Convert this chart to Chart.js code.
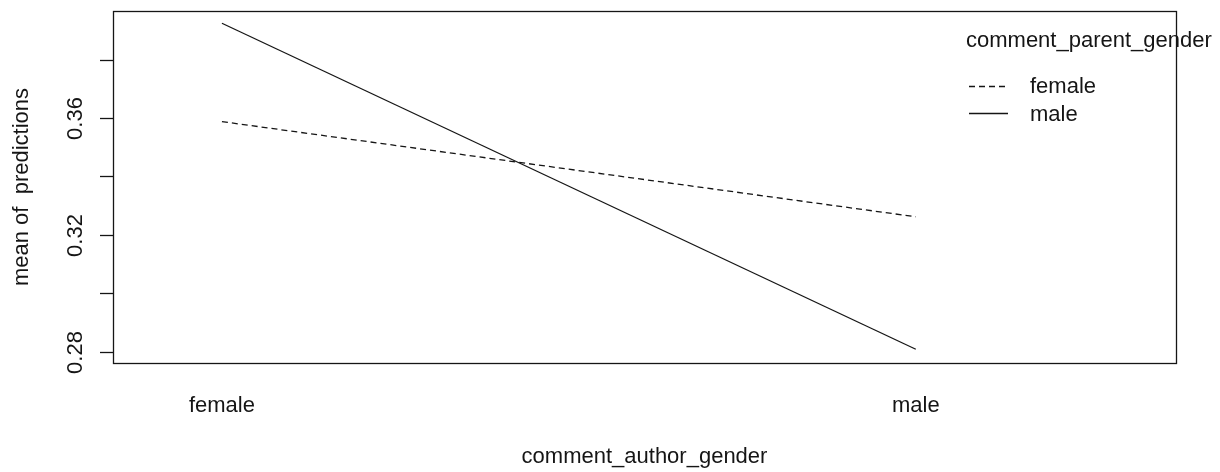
<!DOCTYPE html>
<html>
<head>
<meta charset="utf-8">
<script src="https://cdn.jsdelivr.net/npm/chart.js@4.4.1/dist/chart.umd.min.js"></script>
<style>
  html, body { margin: 0; padding: 0; background: #ffffff; }
  #wrap { width: 1220px; height: 472px; }
</style>
</head>
<body>
<div id="wrap"><canvas id="c" width="1220" height="472"></canvas></div>
<script>
// Levels of the trace factor (x axis) and the grouping factor (lines)
const authorLevels = ['female', 'male'];
const parentLevels = ['female', 'male'];

// Mean of predictions for each author level, one array per parent level
const parentFemale = [0.3588, 0.3262];
const parentMale   = [0.3925, 0.2808];

// Y axis ticks and the labels that are printed
const yTicks      = [0.28, 0.30, 0.32, 0.34, 0.36, 0.38];
const yTickLabels = ['0.28', '', '0.32', '', '0.36', ''];

const xTitle = 'comment_author_gender';
const yTitle = 'mean of  predictions';
const legendTitle = 'comment_parent_gender';

const FONT = '"Liberation Sans", Arial, sans-serif';
const INK = '#151515';
const DASH = [6, 4];

function pts(vals) {
  return vals.map((v, i) => ({ x: i + 1, y: v }));
}

const decor = {
  id: 'decor',
  afterDraw(chart) {
    const ctx = chart.ctx;
    const a = chart.chartArea;
    const xs = chart.scales.x, ys = chart.scales.y;
    ctx.save();
    ctx.strokeStyle = INK;
    ctx.fillStyle = INK;
    ctx.lineWidth = 1.3;

    // plot frame
    ctx.strokeRect(Math.round(a.left) + 0.5, Math.round(a.top) + 0.5,
                   Math.round(a.right - a.left), Math.round(a.bottom - a.top));

    // y ticks and rotated labels
    ctx.font = '22px ' + FONT;
    yTicks.forEach((t, i) => {
      const y = Math.round(ys.getPixelForValue(t)) + 0.5;
      ctx.beginPath();
      ctx.moveTo(a.left - 13, y);
      ctx.lineTo(a.left, y);
      ctx.stroke();
      if (yTickLabels[i]) {
        ctx.save();
        ctx.translate(82, y);
        ctx.rotate(-Math.PI / 2);
        ctx.textAlign = 'center';
        ctx.textBaseline = 'alphabetic';
        ctx.fillText(yTickLabels[i], 0, 0);
        ctx.restore();
      }
    });

    // x category labels
    ctx.textAlign = 'center';
    ctx.textBaseline = 'alphabetic';
    authorLevels.forEach((lab, i) => {
      ctx.fillText(lab, xs.getPixelForValue(i + 1), 412);
    });

    // axis titles
    ctx.fillText(xTitle, (a.left + a.right) / 2, 463);
    ctx.save();
    ctx.translate(28, (a.top + a.bottom) / 2);
    ctx.rotate(-Math.PI / 2);
    ctx.fillText(yTitle, 0, 0);
    ctx.restore();

    // legend
    ctx.textAlign = 'left';
    ctx.fillText(legendTitle, 966, 47);
    const entries = [
      { label: parentLevels[0], dash: DASH, y: 86, base: 93 },
      { label: parentLevels[1], dash: [], y: 113, base: 121 }
    ];
    entries.forEach(e => {
      ctx.setLineDash(e.dash);
      ctx.beginPath();
      ctx.moveTo(969, e.y + 0.5);
      ctx.lineTo(1008, e.y + 0.5);
      ctx.stroke();
      ctx.setLineDash([]);
      ctx.fillText(e.label, 1030, e.base);
    });
    ctx.restore();
  }
};

new Chart(document.getElementById('c'), {
  type: 'line',
  data: {
    datasets: [
      {
        label: parentLevels[0],
        data: pts(parentFemale),
        borderColor: INK,
        borderWidth: 1.3,
        borderDash: DASH,
        pointRadius: 0,
        tension: 0,
        fill: false
      },
      {
        label: parentLevels[1],
        data: pts(parentMale),
        borderColor: INK,
        borderWidth: 1.3,
        pointRadius: 0,
        tension: 0,
        fill: false
      }
    ]
  },
  options: {
    responsive: false,
    animation: false,
    devicePixelRatio: 1,
    layout: { padding: { left: 113, top: 11, right: 44, bottom: 109 } },
    plugins: { legend: { display: false }, tooltip: { enabled: false } },
    scales: {
      x: { type: 'linear', min: 0.843, max: 2.375, display: false },
      y: { type: 'linear', min: 0.2761, max: 0.3967, display: false }
    }
  },
  plugins: [decor]
});
</script>
</body>
</html>
